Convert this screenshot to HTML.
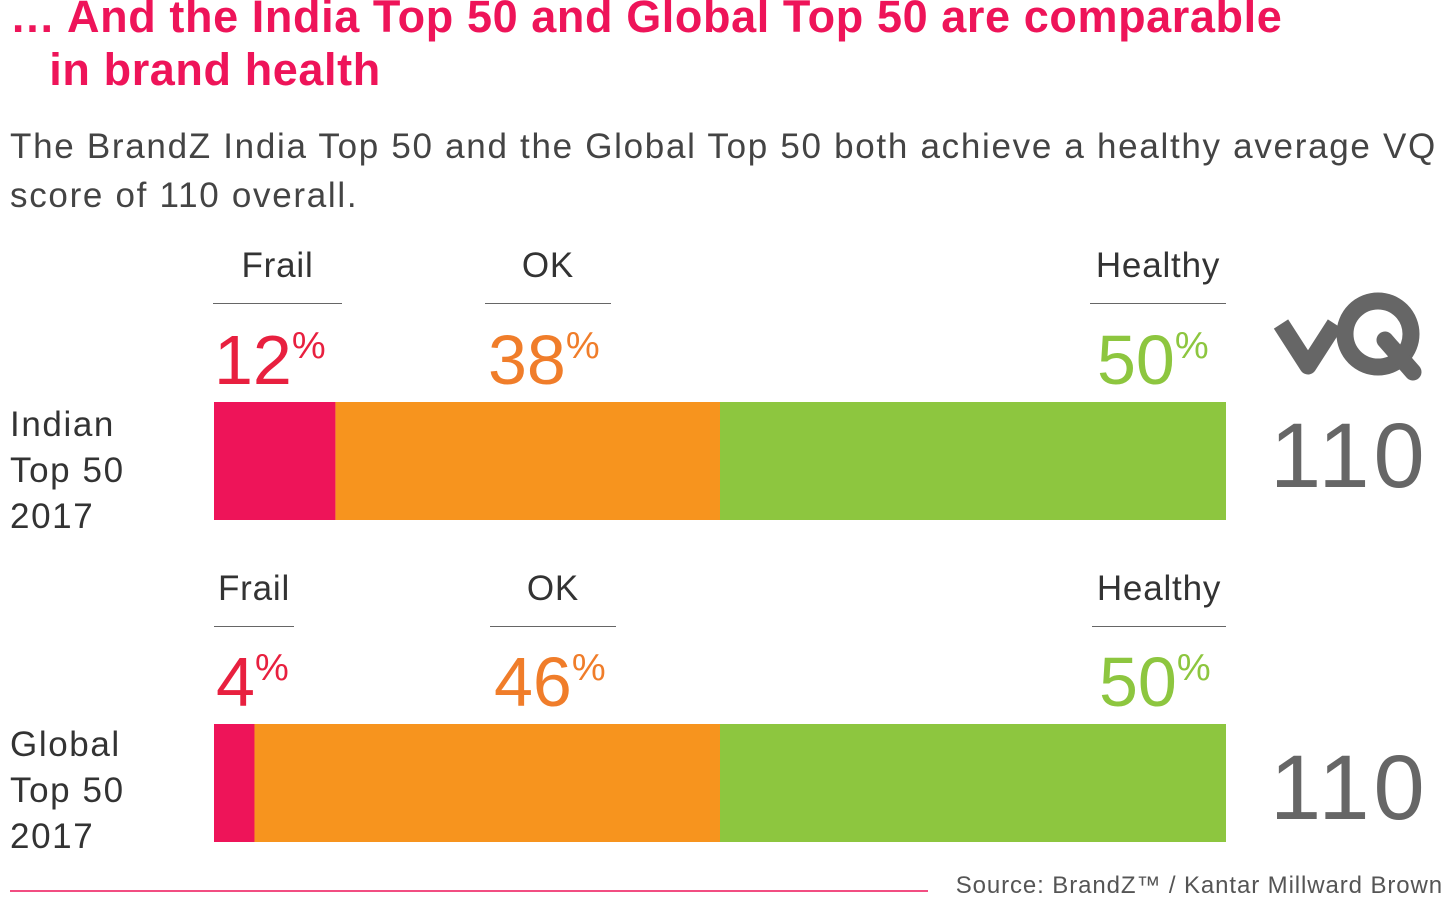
<!DOCTYPE html>
<html><head><meta charset="utf-8">
<style>
body{margin:0;width:1443px;height:902px;background:#fff;position:relative;overflow:hidden;font-family:"Liberation Sans",sans-serif;}
.a{position:absolute;white-space:nowrap;}
.title{color:#EE1459;font-weight:bold;font-size:45px;left:10px;line-height:53px;letter-spacing:0.6px;}
.sub{color:#444;font-size:35px;left:10px;line-height:49px;letter-spacing:1.7px;}
.cat{font-size:35px;color:#333;text-align:center;border-bottom:1.5px solid #666;line-height:44px;height:59px;letter-spacing:0.8px;}
.pct{font-size:70px;line-height:70px;}
.pct sup{font-size:38px;vertical-align:top;line-height:38px;position:relative;top:2px;}
.row{font-size:35px;color:#333;left:10px;line-height:46px;letter-spacing:1.6px;}
.vq{font-size:92px;color:#666;left:1270px;line-height:92px;letter-spacing:4px;}
</style></head><body>
<div class="a title" style="top:-10px">… And the India Top 50 and Global Top 50 are comparable<br>&nbsp;&nbsp;&nbsp;in brand health</div>
<div class="a sub" style="top:122px">The BrandZ India Top 50 and the Global Top 50 both achieve a healthy average VQ<br>score of 110 overall.</div>

<div class="a cat" style="left:213px;top:244px;width:129px">Frail</div>
<div class="a cat" style="left:485px;top:244px;width:126px">OK</div>
<div class="a cat" style="left:1090px;top:244px;width:136px">Healthy</div>
<div class="a pct" id="p0" style="left:214px;top:325px;color:#E8203F"></div>
<div class="a pct" id="p1" style="left:488px;top:325px;color:#F07D2A"></div>
<div class="a pct" id="p2" style="left:1097px;top:325px;color:#8DC63F"></div>

<div class="a cat" style="left:214px;top:567px;width:80px">Frail</div>
<div class="a cat" style="left:490px;top:567px;width:126px">OK</div>
<div class="a cat" style="left:1092px;top:567px;width:134px">Healthy</div>
<div class="a pct" id="p3" style="left:216px;top:647px;color:#E8203F"></div>
<div class="a pct" id="p4" style="left:494px;top:647px;color:#F07D2A"></div>
<div class="a pct" id="p5" style="left:1099px;top:647px;color:#8DC63F"></div>

<div class="a row" style="top:402px">Indian<br>Top 50<br>2017</div>
<div class="a row" style="top:722px">Global<br>Top 50<br>2017</div>

<svg class="a" style="left:0;top:0" width="1443" height="902" id="chart">
<g fill="none" stroke="#666" stroke-width="17">
<polyline points="1281,324 1308,366 1335,324" stroke-linejoin="round"/>
<circle cx="1378" cy="334" r="33"/>
<line x1="1385" y1="340" x2="1413" y2="372" stroke-linecap="round"/>
</g>
<line x1="10" y1="891" x2="928" y2="891" stroke="#EE1459" stroke-width="1.5"/>
</svg>
<div class="a vq" style="top:410px" id="vq0"></div>
<div class="a vq" style="top:742px" id="vq1"></div>
<div class="a" style="right:0;top:872px;font-size:24px;color:#555;letter-spacing:0.9px">Source: BrandZ™ / Kantar Millward Brown</div>
<script>
const segments=["Frail","OK","Healthy"];
const india=[12,38,50];
const global=[4,46,50];
const vqScores=[110,110];
const colors=["#EE1459","#F7941E","#8DC63F"];
const X0=214,W=1012;
function xs(v){return X0+v/100*W;}
const svg=document.getElementById('chart');
const NS="http://www.w3.org/2000/svg";
[[india,402,'india'],[global,724,'global']].forEach(([vals,y,nm],ri)=>{
  let cum=0;
  vals.forEach((v,i)=>{
    const r=document.createElementNS(NS,'rect');
    r.setAttribute('x',xs(cum));r.setAttribute('y',y);
    r.setAttribute('width',xs(cum+v)-xs(cum));r.setAttribute('height',118);
    r.setAttribute('fill',colors[i]);
    
    
    svg.appendChild(r);cum+=v;
    document.getElementById('p'+(ri*3+i)).innerHTML=v+'<sup>%</sup>';
  });
  document.getElementById('vq'+ri).textContent=vqScores[ri];
});
</script>
</body></html>
